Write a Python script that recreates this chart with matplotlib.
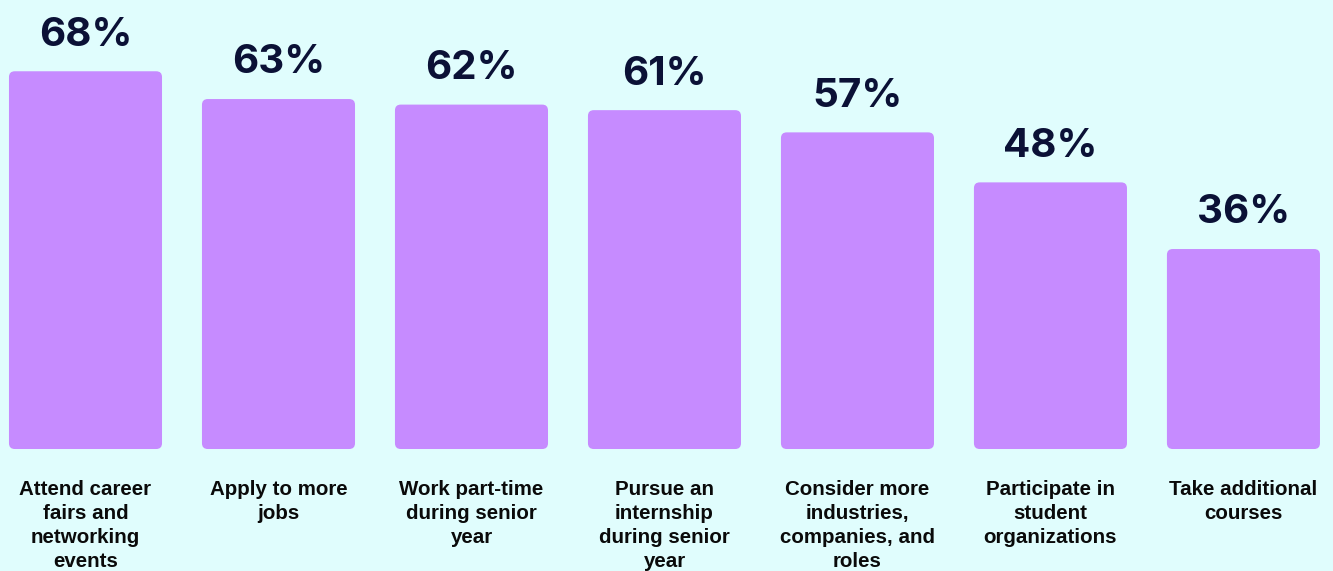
import matplotlib.pyplot as plt
from matplotlib.patches import FancyBboxPatch

categories = [
    "Attend career\nfairs and\nnetworking\nevents",
    "Apply to more\njobs",
    "Work part-time\nduring senior\nyear",
    "Pursue an\ninternship\nduring senior\nyear",
    "Consider more\nindustries,\ncompanies, and\nroles",
    "Participate in\nstudent\norganizations",
    "Take additional\ncourses",
]
values = [68, 63, 62, 61, 57, 48, 36]

BG = "#E0FDFD"
BAR = "#C68BFF"
NAVY = "#0B1136"

fig = plt.figure(figsize=(13.33, 5.71), dpi=100)
fig.patch.set_facecolor(BG)
ax = fig.add_axes([0, 0, 1, 1])
ax.set_facecolor(BG)
ax.set_xlim(-0.443, 6.464)
ax.set_ylim(-21.96, 80.83)
ax.axis("off")

bars = ax.bar(range(len(values)), values, width=0.793)

# swap the plain rectangles for rounded ones
for rect in bars:
    x, y = rect.get_x(), rect.get_y()
    w, h = rect.get_width(), rect.get_height()
    rect.remove()
    box = FancyBboxPatch((x, y), w, h,
                         boxstyle="round,pad=0,rounding_size=0.03",
                         mutation_aspect=34.8,
                         facecolor=BAR, edgecolor="none")
    ax.add_patch(box)

for i, v in enumerate(values):
    ax.text(i, v + 4.6, f"{v}%", ha="center", va="baseline",
            fontsize=29, fontweight="bold", family="Inter", color=NAVY)
    ax.text(i, -5.6, categories[i], ha="center", va="top",
            fontsize=14.8, fontweight="bold", family="Liberation Sans",
            color="#0a0a0a", linespacing=1.33)

fig.savefig("out.png", dpi=100, facecolor=BG)
